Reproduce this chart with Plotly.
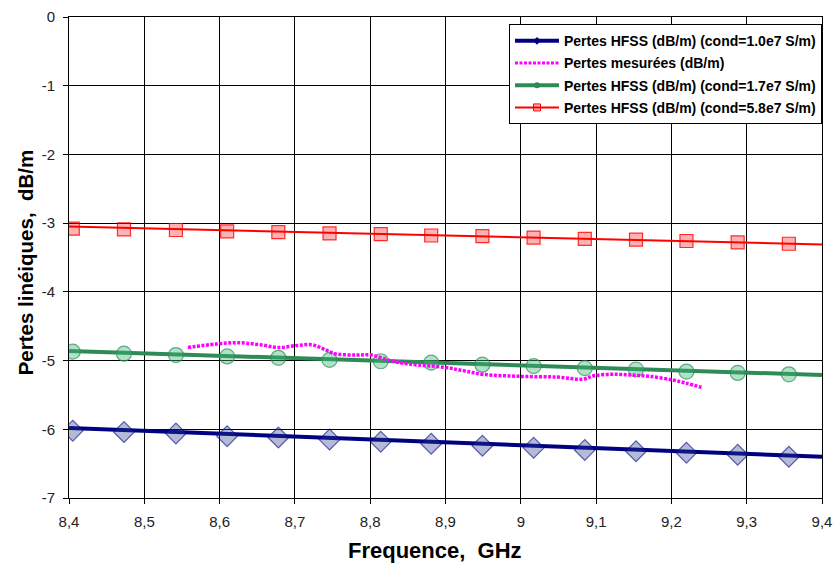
import plotly.graph_objects as go

# Marker frequencies (GHz) for HFSS series
freq_markers = [8.405, 8.473, 8.542, 8.610, 8.678, 8.746, 8.814, 8.881,
                8.949, 9.017, 9.085, 9.153, 9.220, 9.288, 9.356]
hfss_10_markers = [-6.02, -6.04, -6.06, -6.10, -6.12, -6.15, -6.18, -6.21,
                   -6.24, -6.27, -6.30, -6.32, -6.34, -6.37, -6.40]
hfss_17_markers = [-4.87, -4.90, -4.92, -4.94, -4.96, -4.99, -5.01, -5.03,
                   -5.06, -5.08, -5.11, -5.13, -5.16, -5.18, -5.20]
hfss_58_markers = [-3.08, -3.09, -3.10, -3.12, -3.13, -3.15, -3.16, -3.18,
                   -3.19, -3.21, -3.23, -3.24, -3.26, -3.28, -3.30]

# Fitted lines across the full band
freq_line = [8.4, 9.4]
hfss_10_line = [-5.98, -6.40]
hfss_17_line = [-4.86, -5.21]
hfss_58_line = [-3.05, -3.31]

# Measured losses
freq_meas = [8.558, 8.595, 8.625, 8.654, 8.679, 8.703, 8.723, 8.738, 8.753,
             8.782, 8.802, 8.826, 8.851, 8.900, 8.925, 8.950, 8.999, 9.048,
             9.083, 9.097, 9.122, 9.147, 9.171, 9.201, 9.220, 9.240]
meas = [-4.81, -4.76, -4.74, -4.77, -4.81, -4.78, -4.77, -4.83, -4.90,
        -4.92, -4.92, -5.00, -5.05, -5.10, -5.15, -5.20, -5.23, -5.24,
        -5.27, -5.22, -5.20, -5.21, -5.23, -5.28, -5.33, -5.39]

names = ["Pertes HFSS (dB/m) (cond=1.0e7 S/m)",
         "Pertes mesurées (dB/m)",
         "Pertes HFSS (dB/m) (cond=1.7e7 S/m)",
         "Pertes HFSS (dB/m) (cond=5.8e7 S/m)"]

x_ticks = [8.4, 8.5, 8.6, 8.7, 8.8, 8.9, 9.0, 9.1, 9.2, 9.3, 9.4]
x_ticktext = ["8,4", "8,5", "8,6", "8,7", "8,8", "8,9", "9", "9,1", "9,2", "9,3", "9,4"]
y_ticks = [0, -1, -2, -3, -4, -5, -6, -7]
y_ticktext = ["0", "-1", "-2", "-3", "-4", "-5", "-6", "-7"]

x_title = "Frequence,  GHz"
y_title = "Pertes linéiques,  dB/m"

BLUE = "#000080"
GREEN = "#2E8B57"
RED = "#FF0000"
MAG = "#FF00FF"

fig = go.Figure()

# red
fig.add_trace(go.Scatter(x=freq_line, y=hfss_58_line, mode="lines",
                         line=dict(color=RED, width=2), showlegend=False))
fig.add_trace(go.Scatter(x=freq_markers, y=hfss_58_markers, mode="markers",
                         marker=dict(symbol="square", size=13, color="rgba(255,0,0,0.3)",
                                     line=dict(color="rgba(255,0,0,0.8)", width=1.2)),
                         showlegend=False))
# green
fig.add_trace(go.Scatter(x=freq_line, y=hfss_17_line, mode="lines",
                         line=dict(color=GREEN, width=4), showlegend=False))
fig.add_trace(go.Scatter(x=freq_markers, y=hfss_17_markers, mode="markers",
                         marker=dict(symbol="circle", size=15, color="rgba(60,179,113,0.4)",
                                     line=dict(color="rgba(46,139,87,0.7)", width=1.2)),
                         showlegend=False))
# blue
fig.add_trace(go.Scatter(x=freq_line, y=hfss_10_line, mode="lines",
                         line=dict(color=BLUE, width=4), showlegend=False))
fig.add_trace(go.Scatter(x=freq_markers, y=hfss_10_markers, mode="markers",
                         marker=dict(symbol="diamond", size=16, color="rgba(40,60,140,0.35)",
                                     line=dict(color="rgba(0,0,128,0.6)", width=1.2)),
                         showlegend=False))
# measured
fig.add_trace(go.Scatter(x=freq_meas, y=meas, mode="lines",
                         line=dict(color=MAG, width=3.5, dash="3px,1.5px", shape="spline"),
                         showlegend=False))

# legend entries
leg_styles = [
    dict(mode="lines+markers", line=dict(color=BLUE, width=4),
         marker=dict(symbol="diamond", size=6, color=BLUE)),
    dict(mode="lines", line=dict(color=MAG, width=3, dash="3px,1.5px")),
    dict(mode="lines+markers", line=dict(color=GREEN, width=4),
         marker=dict(symbol="circle", size=6, color=GREEN)),
    dict(mode="lines+markers", line=dict(color=RED, width=2),
         marker=dict(symbol="square", size=7, color="rgba(255,0,0,0.3)",
                     line=dict(color=RED, width=1))),
]
for i, (nm, st) in enumerate(zip(names, leg_styles)):
    fig.add_trace(go.Scatter(x=[None], y=[None], name=nm, legendgroup=f"g{i}",
                             showlegend=True, **st))

fig.update_layout(
    width=834, height=563,
    margin=dict(l=69, r=12, t=17, b=65),
    paper_bgcolor="white", plot_bgcolor="white",
    font=dict(family="Arial, Liberation Sans, sans-serif", color="#000"),
    legend=dict(x=1.0, y=0.985, xanchor="right", yanchor="top",
                bgcolor="white", bordercolor="black", borderwidth=1,
                font=dict(size=14, family="Arial, Liberation Sans, sans-serif", color="#000",
                          weight="bold"),
                traceorder="grouped", tracegroupgap=1, itemwidth=44),
    xaxis=dict(range=[8.4, 9.4], tickvals=x_ticks, ticktext=x_ticktext,
               showgrid=True, gridcolor="black", automargin=False,
               gridwidth=1, showline=True, linecolor="black", mirror=True,
               ticks="outside", ticklen=5, tickcolor="black", ticklabelstandoff=5,
               tickfont=dict(size=15, color="#222"), zeroline=False),
    yaxis=dict(range=[-7, 0], tickvals=y_ticks, ticktext=y_ticktext,
               showgrid=True, gridcolor="black", automargin=False,
               gridwidth=1, showline=True, linecolor="black", mirror=True,
               ticks="outside", ticklen=5, tickcolor="black", ticklabelstandoff=5,
               tickfont=dict(size=15, color="#222"), zeroline=False),
    annotations=[
        dict(text=x_title, xref="paper", yref="paper", x=0.486, y=-0.11,
             xanchor="center", yanchor="middle", showarrow=False,
             font=dict(size=22, weight="bold", color="#000")),
        dict(text=y_title, xref="paper", yref="paper", x=-0.0584, y=0.49,
             xanchor="center", yanchor="middle", showarrow=False, textangle=-90,
             font=dict(size=20.5, weight="bold", color="#000")),
    ],
)

post = ("document.body.style.margin='0px';"
        "document.body.style.padding='0px';"
        "document.body.style.overflow='hidden';"
        "document.documentElement.style.overflow='hidden';")
fig.write_html("out.html", post_script=post, config={"displayModeBar": False})
